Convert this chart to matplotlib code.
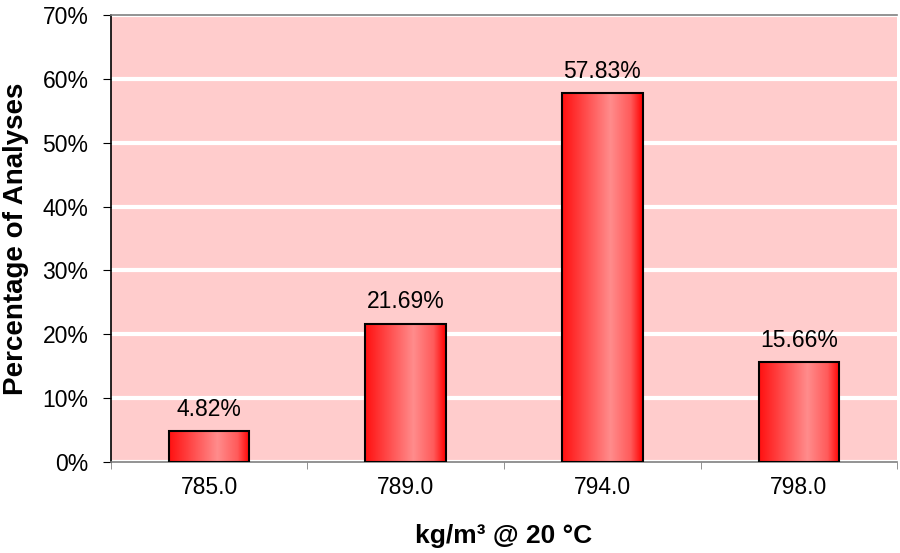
import numpy as np
import matplotlib.pyplot as plt
from matplotlib.colors import LinearSegmentedColormap

plt.rcParams['font.family'] = ['Liberation Sans', 'DejaVu Sans']

categories = ["785.0", "789.0", "794.0", "798.0"]
values = [4.82, 21.69, 57.83, 15.66]
labels = ["4.82%", "21.69%", "57.83%", "15.66%"]

fig = plt.figure(figsize=(9, 5.53), dpi=100)
ax = fig.add_axes([0.123, 0.1646, 0.874, 0.808])
ax.set_facecolor("#FFCCCC")

x = np.arange(len(categories))
bars = ax.bar(x, values, width=0.41, facecolor="none", edgecolor="black",
              linewidth=1.5, zorder=3)

# horizontal gradient inside each bar
cmap = LinearSegmentedColormap.from_list(
    "barg", [(0, "#FF1010"), (0.6, "#FF8C8C"), (0.85, "#FF5A5A"), (1, "#FF0000")])
grad = np.linspace(0, 1, 256).reshape(1, -1)
for b in bars:
    x0, y0 = b.get_x(), b.get_y()
    im = ax.imshow(grad, cmap=cmap, aspect="auto", zorder=2,
                   extent=[x0, x0 + b.get_width(), y0, y0 + b.get_height()])
    im.set_clip_path(b)

for xi, v, lab in zip(x, values, labels):
    ax.text(xi, v + 1.6, lab, ha="center", va="bottom", fontsize=16.5)

ax.set_xlim(-0.5, len(categories) - 0.5)
ax.set_ylim(0, 70)
ax.set_yticks(np.arange(0, 71, 10))
ax.set_yticklabels([f"{t}%" for t in range(0, 71, 10)], fontsize=16.5)
ax.yaxis.grid(True, color="white", linewidth=3)
ax.set_axisbelow(True)

ax.set_xticks(x)
ax.set_xticklabels(categories, fontsize=16.5)
ax.set_xticks(np.arange(-0.5, len(categories), 1), minor=True)
ax.tick_params(axis="x", which="major", length=0, pad=10)
ax.tick_params(axis="x", which="minor", length=5, color="#808080")
ax.tick_params(axis="y", length=6, color="black", pad=10)

ax.spines["left"].set_color("black")
ax.spines["bottom"].set_color("#808080")
ax.spines["top"].set_color("#808080")
ax.spines["right"].set_visible(False)
for s in ax.spines.values():
    s.set_linewidth(1.2)

ax.set_ylabel("Percentage of Analyses", fontsize=20, fontweight="bold", labelpad=10)
ax.set_xlabel("kg/m³ @ 20 °C", fontsize=19, fontweight="bold", labelpad=18)

fig.savefig("out.png", dpi=100)
